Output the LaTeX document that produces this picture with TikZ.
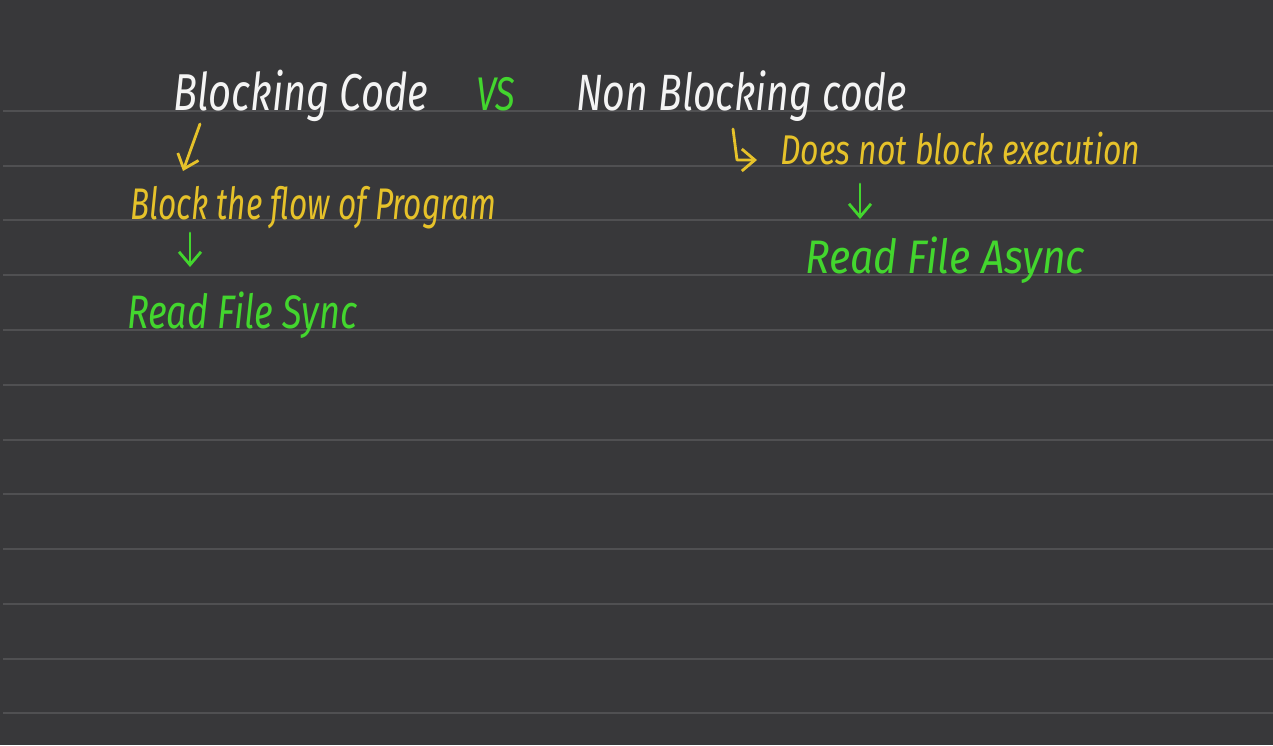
\documentclass[tikz,border=0pt]{standalone}
\usepackage{fontspec}
\setmainfont{Fira Sans}
\usetikzlibrary{arrows.meta}
\definecolor{bg}{HTML}{38383A}
\definecolor{rule}{HTML}{505052}
\definecolor{penwhite}{HTML}{F4F4F4}
\definecolor{penyellow}{HTML}{E6C22A}
\definecolor{pengreen}{HTML}{43D62E}
\newcommand{\fitw}[3][1.3]{\scalebox{1}[#1]{\resizebox{#2}{!}{\itshape #3}}}
\tikzset{
  hand/.style={inner sep=0pt, anchor=base west},
  pen/.style={line width=2.8pt, line cap=round, line join=round, -{Straight Barb[length=13pt,width=22pt,line width=2.8pt]}},
  rulefill/.style={rule, line width=1.6pt}
}
\begin{document}
\begin{tikzpicture}[x=1pt,y=-1pt]
\fill[bg] (0,0) rectangle (1273,745);
\useasboundingbox (0,0) rectangle (1273,745);
\foreach \yy in {111,166,220,275,330,385,440,494,549,604,659,713}
  \draw[rulefill] (3,\yy) -- (1273,\yy);
% left column
\node[hand, text=penwhite] (blk) at (173,110) {\fitw{255pt}{Blocking Code}};
\node[hand, text=pengreen] (vs) at (476,110) {\fitw{39pt}{VS}};
\node[hand, text=penwhite] (nblk) at (576,110) {\fitw{330pt}{Non Blocking code}};
\coordinate (a1s) at (200,124);
\coordinate (a1e) at (183,171);
\draw[pen, penyellow] (a1s) -- (a1e);
\node[hand, text=penyellow] (flow) at (130,219) {\fitw[1.4]{366pt}{Block the flow of Program}};
\coordinate (a2s) at (190,233);
\coordinate (a2e) at (190,267);
\draw[pen, pengreen] (a2s) -- (a2e);
\node[hand, text=pengreen] (sync) at (127,328) {\fitw{230pt}{Read File Sync}};
% right column
\coordinate (h1) at (733,129);
\coordinate (h2) at (737,160);
\coordinate (h3) at (757,160);
\draw[pen, penyellow] (h1) -- (h2) -- (h3);
\node[hand, text=penyellow] (exec) at (780,164) {\fitw{360pt}{Does not block execution}};
\coordinate (a3s) at (860,184);
\coordinate (a3e) at (860,219);
\draw[pen, pengreen] (a3s) -- (a3e);
\node[hand, text=pengreen] (async) at (805,273) {\fitw[1.15]{280pt}{Read File Async}};
\end{tikzpicture}
\end{document}
